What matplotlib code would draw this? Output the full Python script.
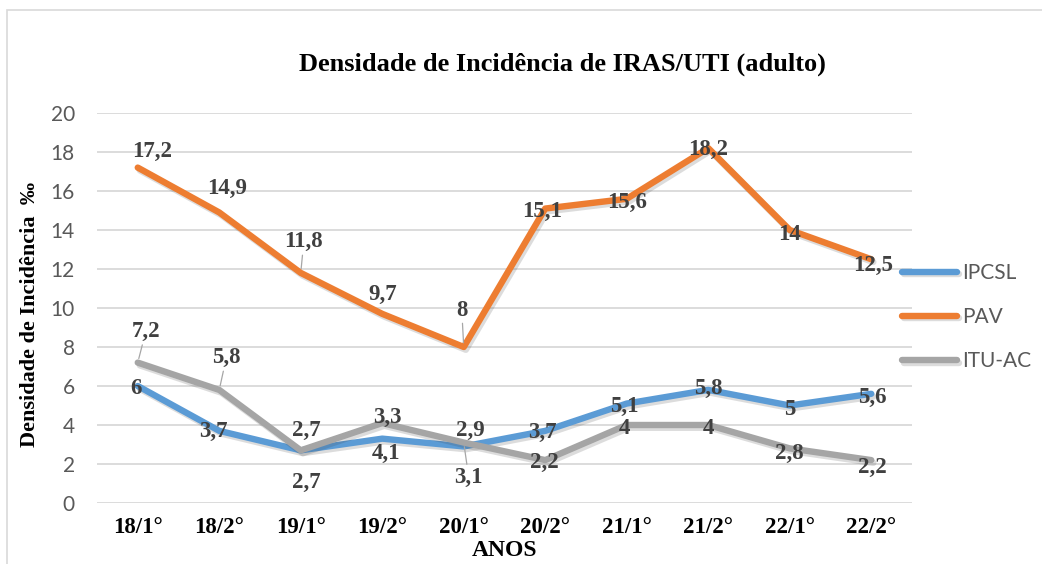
import matplotlib
matplotlib.use('Agg')
import matplotlib.pyplot as plt
import matplotlib.patheffects as pe
from matplotlib.patches import Rectangle

# data
periodos = ['18/1°', '18/2°', '19/1°', '19/2°', '20/1°', '20/2°', '21/1°', '21/2°', '22/1°', '22/2°']
ipcsl = [6, 3.7, 2.7, 3.3, 2.9, 3.7, 5.1, 5.8, 5, 5.6]
pav = [17.2, 14.9, 11.8, 9.7, 8, 15.1, 15.6, 18.2, 14, 12.5]
itu_ac = [7.2, 5.8, 2.7, 4.1, 3.1, 2.2, 4, 4, 2.8, 2.2]
series_names = ['IPCSL', 'PAV', 'ITU-AC']
y_ticks = [0, 2, 4, 6, 8, 10, 12, 14, 16, 18, 20]

# label placement in pixels (dx, dy), dy taken downward like the picture
pav_offsets = [(14, -16), (8, -24), (3, -31), (0, -19), (-2, -37),
               (-3, 3), (0, 4), (0, 1), (0, 5), (2, 6)]
ipcsl_offsets = [(-2, 2), (-6, 1), (6, 32), (5, -21), (7, -16),
                 (-3, 2), (-2, 3), (0, -1), (0, 4), (1, 4)]
itu_offsets = [(8, -31), (7, -32), (6, -20), (4, 30), (5, 35),
               (-1, 2), (-2, 4), (0, 4), (0, 5), (1, 7)]
pav_leaders = [2, 4]
ipcsl_leaders = []
itu_leaders = [0, 1, 4]

colors = ['#5B9BD5', '#ED7D31', '#A5A5A5']
serif = ['Liberation Serif', 'DejaVu Serif']
sans = ['Lato', 'DejaVu Sans']

W, H = 1042, 564
fig = plt.figure(figsize=(W / 100, H / 100), dpi=100)
ax = fig.add_axes([97 / W, 1 - 503 / H, (912 - 97) / W, (503 - 113) / H])

# chart border (only top and left show in the crop)
fig.patches.append(Rectangle((7 / W, -0.1), 1.2, 1 - 10.5 / H + 0.1, transform=fig.transFigure,
                             fill=False, edgecolor='#D9D9D9', linewidth=1.2))

x = list(range(len(periodos)))
shadow = [pe.SimpleLineShadow(offset=(1.5, -2), alpha=0.18, shadow_color='#404040'), pe.Normal()]

lines = []
for values, color, name in zip([ipcsl, pav, itu_ac], colors, series_names):
    ln, = ax.plot(x, values, color=color, linewidth=4.6, solid_capstyle='round',
                  solid_joinstyle='round', label=name, path_effects=shadow, zorder=3)
    lines.append(ln)


def fmt(v):
    return '{:g}'.format(v).replace('.', ',')


def add_labels(values, offsets, leaders):
    for i, v in enumerate(values):
        dx, dy = offsets[i]
        kw = {}
        if i in leaders:
            kw['arrowprops'] = dict(arrowstyle='-', color='#A6A6A6', lw=0.9, shrinkA=0, shrinkB=3)
        ax.annotate(fmt(v), (i, v), xytext=(dx, -dy), textcoords='offset pixels',
                    ha='center', va='center', fontsize=16.5, fontweight='bold',
                    family=serif, color='#404040', zorder=5, **kw)


add_labels(ipcsl, ipcsl_offsets, ipcsl_leaders)
add_labels(pav, pav_offsets, pav_leaders)
add_labels(itu_ac, itu_offsets, itu_leaders)

ax.set_xlim(-0.5, len(periodos) - 0.5)
ax.set_ylim(0, 20)
ax.set_yticks(y_ticks)
ax.set_xticks(x)
ax.set_xticklabels(periodos, fontsize=16.5, fontweight='bold', family=serif, color='black')
for lab in ax.get_yticklabels():
    lab.set_family(sans)
    lab.set_fontsize(15)
    lab.set_color('#595959')
ax.tick_params(axis='x', length=0, pad=10)
ax.tick_params(axis='y', length=0, pad=16)
ax.grid(axis='y', color='#D9D9D9', linewidth=1.3)
ax.set_axisbelow(True)
for s in ax.spines.values():
    s.set_visible(False)

fig.text(562 / W, 1 - 64 / H, 'Densidade de Incidência de IRAS/UTI (adulto)',
         ha='center', va='center', fontsize=19, fontweight='bold', family=serif)
fig.text(505 / W, 1 - 551 / H, 'ANOS', ha='center', va='center',
         fontsize=17, fontweight='bold', family=serif)
fig.text(30 / W, 1 - 314 / H, 'Densidade de Incidência  ‰', rotation=90,
         ha='center', va='center', fontsize=16, fontweight='bold', family=serif)

fig.legend(lines, series_names, loc='center left', bbox_to_anchor=(902 / W, 1 - 317 / H),
           frameon=False, borderpad=0, borderaxespad=0, handlelength=2.64,
           handletextpad=0.25, labelspacing=1.16, prop={'family': sans, 'size': 15},
           labelcolor='#595959')

fig.savefig('out.png', dpi=100)
